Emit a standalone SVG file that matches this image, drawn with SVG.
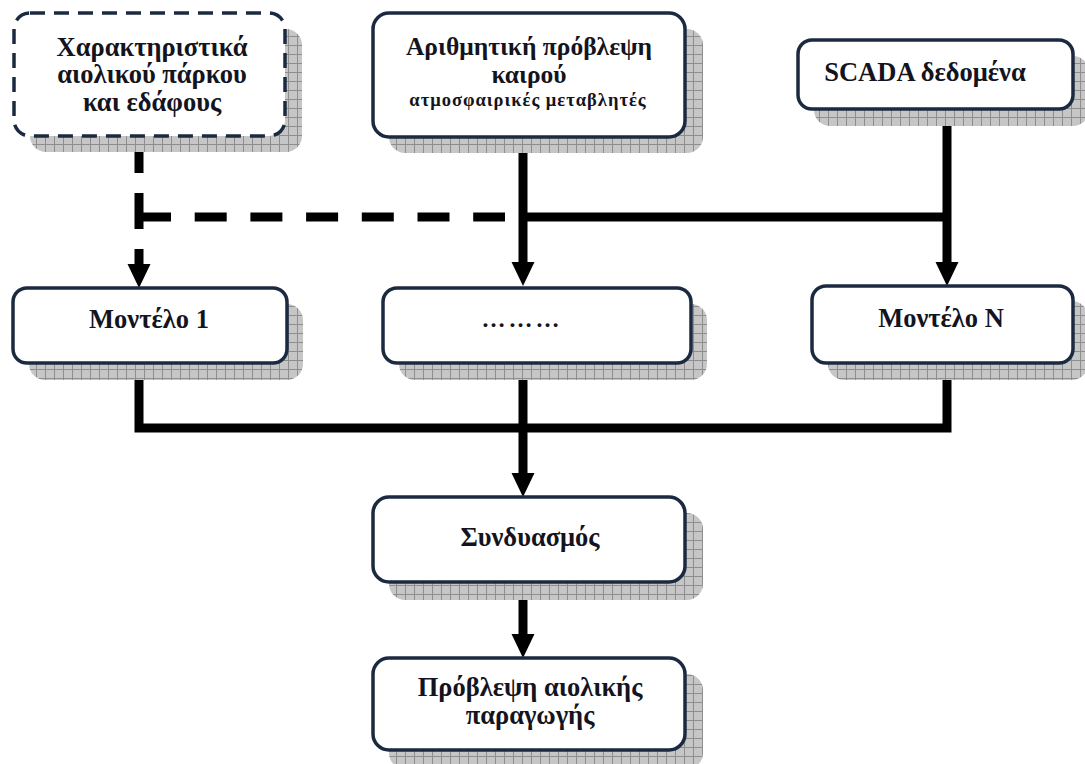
<svg xmlns="http://www.w3.org/2000/svg" width="1085" height="764" viewBox="0 0 1085 764">
<defs>
<pattern id="grid" width="9" height="9" patternUnits="userSpaceOnUse">
<rect width="9" height="9" fill="#c6c6c6"/>
<path d="M0 0.5H9M0.5 0V9" stroke="#8e8e8e" stroke-width="1" fill="none"/>
</pattern>
<style>
.sh{fill:url(#grid);}
.bx{fill:#fff;stroke:#1b2a40;stroke-width:3.5;}
.dbx{fill:#fff;stroke:#1b2a40;stroke-width:3.5;stroke-dasharray:15 9;}
.t{font-family:"Liberation Serif","Times New Roman",serif;font-weight:bold;font-size:26.5px;fill:#141420;text-anchor:middle;}
.tm{font-size:25.5px;}
.ts{font-size:18.5px;letter-spacing:1px;}
.td{font-size:24px;letter-spacing:3px;}
.ln{fill:none;stroke:#000;stroke-width:9;stroke-linejoin:miter;}
.dl{stroke-dasharray:36 20;}
.dh{stroke-dasharray:32 23.7;}
.ah{fill:#000;}
</style>
</defs>
<rect width="1085" height="764" fill="#fff"/>

<g id="connectors">
<path class="ln dl" d="M139 137V265"/>
<path class="ln dh" d="M139 217H505"/>
<path class="ln" d="M523 217H947"/>
<path class="ln" d="M523 137V265"/>
<path class="ln" d="M947 109V265"/>
<path class="ln" d="M139 362V428H947V362"/>
<path class="ln" d="M523 362V475"/>
<path class="ln" d="M523 582V636"/>
<polygon class="ah" points="127.5,264 150.5,264 139,288"/>
<polygon class="ah" points="511.5,262 534.5,262 523,286"/>
<polygon class="ah" points="935.5,262 958.5,262 947,286"/>
<polygon class="ah" points="511.5,473 534.5,473 523,497"/>
<polygon class="ah" points="511.5,634 534.5,634 523,658"/>
</g>

<g id="node-characteristics">
<rect class="sh" x="30" y="29" width="272" height="123" rx="16"/>
<rect class="dbx" x="14" y="13" width="271" height="123" rx="16"/>
<text class="t" x="152" y="56">Χαρακτηριστικά</text>
<text class="t" x="152" y="83">αιολικού πάρκου</text>
<text class="t" x="152" y="111">και εδάφους</text>
</g>

<g id="node-nwp">
<rect class="sh" x="389" y="29" width="314" height="124" rx="16"/>
<rect class="bx" x="373" y="13" width="312" height="124" rx="16"/>
<text class="t tm" x="529" y="55">Αριθμητική πρόβλεψη</text>
<text class="t tm" x="529" y="83">καιρού</text>
<text class="t ts" x="528" y="106">ατμοσφαιρικές μεταβλητές</text>
</g>

<g id="node-scada">
<rect class="sh" x="814" y="56" width="275" height="70" rx="16"/>
<rect class="bx" x="798" y="40" width="275" height="69" rx="14"/>
<text class="t" x="925" y="81">SCADA δεδομένα</text>
</g>

<g id="node-model1">
<rect class="sh" x="29" y="304" width="274" height="76" rx="16"/>
<rect class="bx" x="13" y="288" width="274" height="75" rx="14"/>
<text class="t" x="149" y="328">Μοντέλο 1</text>
</g>

<g id="node-dots">
<rect class="sh" x="399" y="304" width="308" height="76" rx="16"/>
<rect class="bx" x="383" y="288" width="308" height="75" rx="14"/>
<text class="t td" x="522" y="327">………</text>
</g>

<g id="node-modelN">
<rect class="sh" x="828" y="301" width="260" height="79" rx="16"/>
<rect class="bx" x="812" y="286" width="261" height="77" rx="14"/>
<text class="t" x="941" y="327">Μοντέλο Ν</text>
</g>

<g id="node-combination">
<rect class="sh" x="389" y="513" width="314" height="87" rx="16"/>
<rect class="bx" x="373" y="497" width="312" height="85" rx="16"/>
<text class="t" x="530" y="546">Συνδυασμός</text>
</g>

<g id="node-forecast">
<rect class="sh" x="389" y="674" width="314" height="95" rx="16"/>
<rect class="bx" x="373" y="658" width="312" height="92" rx="16"/>
<text class="t" x="530" y="696">Πρόβλεψη αιολικής</text>
<text class="t" x="530" y="724">παραγωγής</text>
</g>
</svg>
